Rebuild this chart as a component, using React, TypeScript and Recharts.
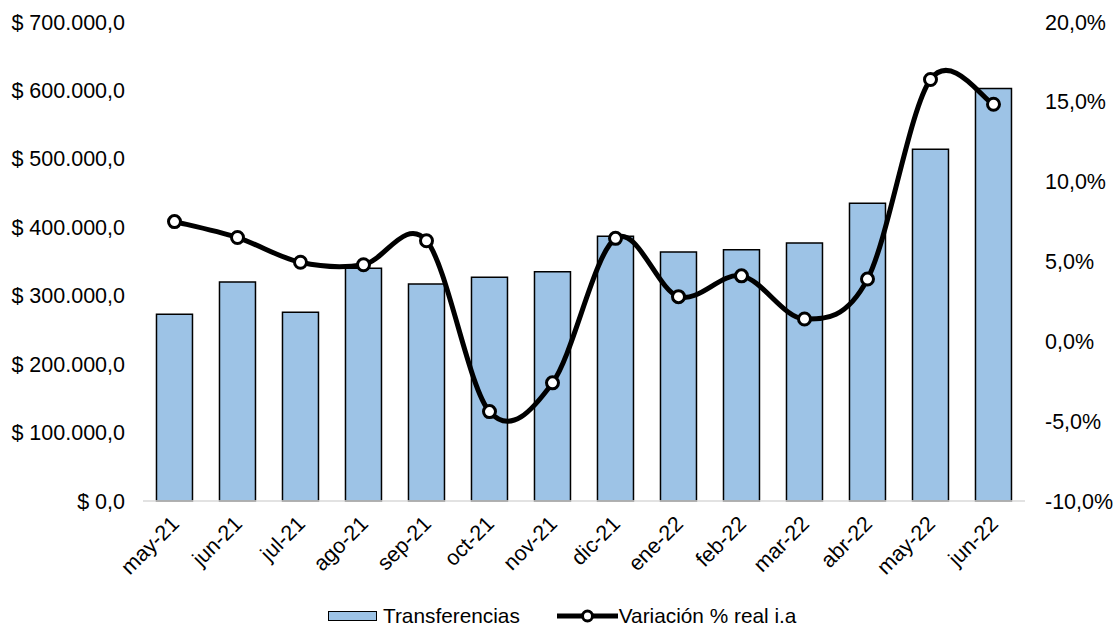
import { ComposedChart, Bar, Line, XAxis, YAxis } from "recharts"

const months = ["may-21", "jun-21", "jul-21", "ago-21", "sep-21", "oct-21", "nov-21", "dic-21", "ene-22", "feb-22", "mar-22", "abr-22", "may-22", "jun-22"]
const transferencias = [273000, 320000, 276000, 340000, 317000, 327000, 335000, 387000, 364000, 367000, 377000, 435000, 514000, 603000]
const variacion = [0.075, 0.065, 0.0495, 0.048, 0.063, -0.044, -0.026, 0.0645, 0.028, 0.041, 0.014, 0.039, 0.164, 0.1485]
const leftTicks = [0, 100000, 200000, 300000, 400000, 500000, 600000, 700000]
const rightTicks = [-0.1, -0.05, 0, 0.05, 0.1, 0.15, 0.2]

const data = months.map((m, i) => ({ month: m, transferencias: transferencias[i], variacion: variacion[i] }))

const FONT = "'Liberation Sans', Arial, sans-serif"
const FS = 21.5

const fmtMoney = (v: number) => "$ " + v.toLocaleString("de-DE", { minimumFractionDigits: 1, maximumFractionDigits: 1 })
const fmtPct = (v: number) => (v * 100).toFixed(1).replace(".", ",") + "%"

// excel-style smoothing (catmull-rom bezier)
function excelCurve(context: any) {
  let xs: number[] = []
  let ys: number[] = []
  return {
    areaStart() {},
    areaEnd() {},
    lineStart() {
      xs = []
      ys = []
    },
    lineEnd() {
      const n = xs.length
      if (!n) return
      context.moveTo(xs[0], ys[0])
      for (let i = 0; i < n - 1; i++) {
        const p0 = Math.max(i - 1, 0)
        const p3 = Math.min(i + 2, n - 1)
        const c1x = xs[i] + (xs[i + 1] - xs[p0]) / 6
        const c1y = ys[i] + (ys[i + 1] - ys[p0]) / 6
        const c2x = xs[i + 1] - (xs[p3] - xs[i]) / 6
        const c2y = ys[i + 1] - (ys[p3] - ys[i]) / 6
        context.bezierCurveTo(c1x, c1y, c2x, c2y, xs[i + 1], ys[i + 1])
      }
    },
    point(x: number, y: number) {
      xs.push(+x)
      ys.push(+y)
    },
  }
}

function MonthTick({ x, y, payload }: any) {
  return (
    <text
      x={x + 6}
      y={y + 16}
      transform={`rotate(-45 ${x + 6} ${y + 16})`}
      textAnchor="end"
      fontSize={FS}
      fontFamily={FONT}
      fill="#000"
    >
      {payload.value}
    </text>
  )
}

function Legend() {
  return (
    <div
      style={{
        position: "absolute",
        top: 604,
        left: 328,
        display: "flex",
        alignItems: "center",
        fontFamily: FONT,
        fontSize: 20.8,
        color: "#000",
        whiteSpace: "nowrap",
      }}
    >
      <div style={{ display: "flex", alignItems: "center" }}>
        <div style={{ width: 47, height: 8, background: "#9DC3E6", border: "1.5px solid #000", marginRight: 6 }} />
        <span>Transferencias</span>
      </div>
      <div style={{ display: "flex", alignItems: "center", marginLeft: 37 }}>
        <svg width={61} height={16}>
          <line x1={0} y1={8} x2={61} y2={8} stroke="#000" strokeWidth={5} />
          <circle cx={30.5} cy={8} r={5} fill="#fff" stroke="#000" strokeWidth={3} />
        </svg>
        <span style={{ marginLeft: 1 }}>Variación % real i.a</span>
      </div>
    </div>
  )
}

export default function App() {
  return (
    <div style={{ position: "fixed", top: 0, left: 0, width: 1117, height: 630, background: "#fff" }}>
      <ComposedChart
        width={1117}
        height={630}
        data={data}
        margin={{ top: 22, right: 0, bottom: 0, left: 0 }}
        barCategoryGap="21.4%"
      >
        <XAxis
          dataKey="month"
          tick={<MonthTick />}
          tickLine={false}
          axisLine={{ stroke: "#D9D9D9", strokeWidth: 1.5 }}
          interval={0}
          height={129}
        />
        <YAxis
          yAxisId="left"
          width={143}
          domain={[0, 700000]}
          ticks={leftTicks}
          tickFormatter={fmtMoney}
          axisLine={false}
          tickLine={false}
          tickSize={0}
          tickMargin={18}
          tick={{ fontSize: FS, fontFamily: FONT, fill: "#000" }}
        />
        <YAxis
          yAxisId="right"
          orientation="right"
          width={92}
          domain={[-0.1, 0.2]}
          ticks={rightTicks}
          tickFormatter={fmtPct}
          axisLine={false}
          tickLine={false}
          tickSize={0}
          tickMargin={20}
          tick={{ fontSize: FS, fontFamily: FONT, fill: "#000" }}
        />
        <Bar
          yAxisId="left"
          dataKey="transferencias"
          fill="#9DC3E6"
          stroke="#000"
          strokeWidth={1.5}
          isAnimationActive={false}
        />
        <Line
          yAxisId="right"
          dataKey="variacion"
          type={excelCurve as any}
          stroke="#000"
          strokeWidth={5}
          dot={{ r: 6, fill: "#fff", stroke: "#000", strokeWidth: 3 }}
          activeDot={false}
          isAnimationActive={false}
        />
      </ComposedChart>
      <Legend />
    </div>
  )
}
